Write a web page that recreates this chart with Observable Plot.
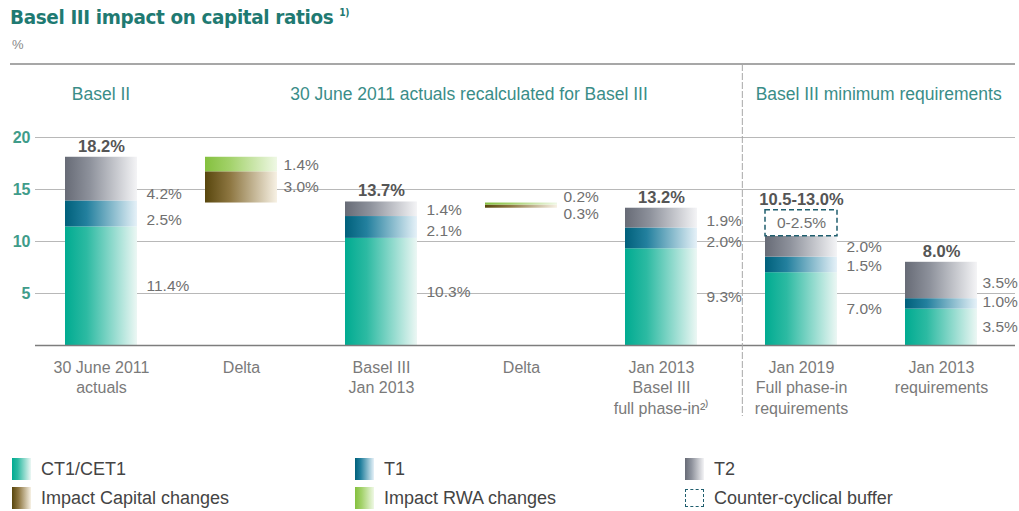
<!DOCTYPE html>
<html><head><meta charset="utf-8">
<script src="https://cdn.jsdelivr.net/npm/d3@7"></script>
<script src="https://cdn.jsdelivr.net/npm/@observablehq/plot@0.6"></script>
<style>
body{margin:0;background:#fff;width:1019px;height:511px;overflow:hidden;font-family:"Liberation Sans",Arial,sans-serif;}
#head{height:56px;position:relative;}
#title{position:absolute;left:10px;top:5px;font-family:"DejaVu Sans",sans-serif;font-size:20px;font-weight:bold;color:#1f7a72;white-space:nowrap;letter-spacing:-0.4px;transform:scaleX(0.92);transform-origin:left center}
#title sup{font-size:10px;vertical-align:8px}
#unit{position:absolute;left:12px;top:37px;font-size:13px;color:#888}
#chart svg{display:block}
#legend{position:relative;height:66px;font-family:"Liberation Sans",Arial,sans-serif;font-size:18px;color:#444}
.item{position:absolute;display:flex;align-items:center;height:22px;white-space:nowrap}
.sw{width:19px;height:22px;margin-right:10px;box-sizing:border-box}
</style></head>
<body>
<div id="head"><div id="title">Basel III impact on capital ratios <sup>1)</sup></div><div id="unit">%</div></div>
<div id="chart"></div>
<div id="legend"></div>
<script>
// ---- data ----
const categories = ["c1","c2","c3","c4","c5","c6","c7"];
const tickLabels = ["30 June 2011\nactuals","Delta","Basel III\nJan 2013","Delta","Jan 2013\nBasel III\nfull phase-in²⁾","Jan 2019\nFull phase-in\nrequirements","Jan 2013\nrequirements"];
const cet1 = [11.4, 0, 10.3, 0, 9.3, 7.0, 3.5];
const t1 = [2.5, 0, 2.1, 0, 2.0, 1.5, 1.0];
const t2 = [4.2, 0, 1.4, 0, 1.9, 2.0, 3.5];
const buffer = [0, 0, 0, 0, 0, 2.5, 0];
const deltaBase = [0, 13.7, 0, 13.2, 0, 0, 0];
const capitalImpact = [0, 3.0, 0, 0.3, 0, 0, 0];
const rwaImpact = [0, 1.4, 0, 0.2, 0, 0, 0];
const totalLabels = ["18.2%", "", "13.7%", "", "13.2%", "10.5-13.0%", "8.0%"];
const bufferLabels = ["", "", "", "", "", "0-2.5%", ""];
const yTicks = [5, 10, 15, 20];
const groupHeadings = ["Basel II", "30 June 2011 actuals recalculated for Basel III", "Basel III minimum requirements"];
const legendItems = [
  {label: "CT1/CET1", key: "cet1"}, {label: "T1", key: "t1"}, {label: "T2", key: "t2"},
  {label: "Impact Capital changes", key: "capital"}, {label: "Impact RWA changes", key: "rwa"}, {label: "Counter-cyclical buffer", key: "buffer"}
];

// ---- styles ----
const gradients = {
  cet1: [[0, "#00ab91"], [0.3, "#2cbaa2"], [1, "#ecf7f4"]],
  t1: [[0, "#00607b"], [0.3, "#23809e"], [1, "#e6f1f8"]],
  t2: [[0, "#676b76"], [0.35, "#8e929c"], [1, "#f4f4f6"]],
  capital: [[0, "#58460d"], [0.35, "#8e7742"], [1, "#f7f1e4"]],
  rwa: [[0, "#84c03e"], [0.35, "#a3d26b"], [1, "#eff8e5"]]
};
const font = '"Liberation Sans",Arial,sans-serif';

const W = 1019, H = 389, mL = 35, mR = 4, mT = 81, mB = 100;
const pxPerUnit = (H - mT - mB) / 20;

// ---- derived rows ----
const segs = [];
const barLabels = [];
const totals = [];
categories.forEach((c, i) => {
  let base = 0;
  const bl = [];
  [["cet1", cet1], ["t1", t1], ["t2", t2], ["buffer", buffer]].forEach(([k, arr]) => {
    const v = arr[i];
    if (v > 0) {
      segs.push({cat: c, key: k, y1: base, y2: base + v, v});
      if (k === "cet1") bl.push({cat: c, y: base + v / 2, text: v.toFixed(1) + "%"});
      else if (k !== "buffer") bl.push({cat: c, y: base + 7 / pxPerUnit, text: v.toFixed(1) + "%"});
      base += v;
    }
  });
  // keep labels of one bar at least 19px apart, pushing upper ones up
  const sep = 19 / pxPerUnit;
  for (let j = 1; j < bl.length; j++) if (bl[j].y - bl[j - 1].y < sep) bl[j].y = bl[j - 1].y + sep;
  barLabels.push(...bl);
  if (totalLabels[i]) totals.push({cat: c, y: base, text: totalLabels[i]});
  let db = deltaBase[i];
  const dl = [];
  [["capital", capitalImpact], ["rwa", rwaImpact]].forEach(([k, arr]) => {
    const v = arr[i];
    if (v > 0) { segs.push({cat: c, key: k, y1: db, y2: db + v, v}); dl.push({cat: c, y: db + v / 2, text: v.toFixed(1) + "%", delta: true}); db += v; }
  });
  if (dl.length === 2) {
    const minSep = 17 / pxPerUnit, mid = (dl[0].y + dl[1].y) / 2;
    if (dl[1].y - dl[0].y < minSep) { dl[0].y = mid - minSep / 2; dl[1].y = mid + minSep / 2; }
  }
  barLabels.push(...dl);
});
const bufferRows = categories.map((c, i) => ({cat: c, i})).filter(d => buffer[d.i] > 0)
  .map(d => ({cat: d.cat, y: cet1[d.i] + t1[d.i] + t2[d.i] + buffer[d.i] / 2, text: bufferLabels[d.i]}));

const pi = 0.486, po = 0.214;
const rangeX = [35, 1007];
const step = (rangeX[1] - rangeX[0]) / (categories.length - pi + 2 * po);
const bw = step * (1 - pi);

const barMarks = ["cet1", "t1", "t2", "capital", "rwa"].map(k =>
  Plot.barY(segs.filter(d => d.key === k), {x: "cat", y1: "y1", y2: "y2", fill: `url(#g_${k})`})
);
const labelStyle = {x: "cat", y: "y", text: "text", textAnchor: "start", fontSize: 15.5, fill: "#707070"};

const plot = Plot.plot({
  width: W, height: H, marginLeft: mL, marginRight: mR, marginTop: mT, marginBottom: mB,
  x: {domain: categories, range: rangeX, paddingInner: pi, paddingOuter: po, align: 0.5, label: null},
  y: {domain: [0, 20], label: null},
  style: {fontFamily: font, background: "white", overflow: "visible"},
  marks: [
    Plot.ruleY(yTicks, {stroke: "#b8b8b8", strokeWidth: 1.2}),
    Plot.axisY(yTicks, {tickSize: 0, tickPadding: 5, fontSize: 16, fontWeight: "bold", color: "#3f9c8a", label: null}),
    Plot.axisX({tickSize: 0, tickPadding: 13, fontSize: 16, color: "#7a7a7a", lineHeight: 1.27, label: null, tickFormat: c => tickLabels[categories.indexOf(c)]}),
    ...barMarks,
    Plot.barY(segs.filter(d => d.key === "buffer"), {x: "cat", y1: "y1", y2: "y2", fill: "white", stroke: "#1f5e6e", strokeWidth: 1.5, strokeDasharray: "5,3"}),
    Plot.ruleY([0], {stroke: "#7d7d7d", strokeWidth: 1.6}),
    Plot.text(barLabels.filter(d => !d.delta && d.cat !== "c7"), {...labelStyle, dx: bw / 2 + 9}),
    Plot.text(barLabels.filter(d => !d.delta && d.cat === "c7"), {...labelStyle, dx: bw / 2 + 5}),
    Plot.text(barLabels.filter(d => d.delta), {...labelStyle, dx: bw / 2 + 6}),
    Plot.text(totals, {x: "cat", y: "y", text: "text", dy: -11, fontSize: 16.5, fontWeight: "bold", fill: "#555"}),
    Plot.text(bufferRows, {x: "cat", y: "y", text: "text", fontSize: 15.5, fill: "#707070"})
  ]
});

const svg = d3.select(plot);
const defs = svg.insert("defs", ":first-child");
Object.entries(gradients).forEach(([k, stops]) => {
  const g = defs.append("linearGradient").attr("id", "g_" + k).attr("x1", 0).attr("x2", 1).attr("y1", 0).attr("y2", 0);
  stops.forEach(([o, c]) => g.append("stop").attr("offset", o).attr("stop-color", c));
});

const xs = plot.scale("x");
const left = c => xs.apply(c);
const center = c => xs.apply(c) + xs.bandwidth / 2;
const dividerX = left("c6") - (left("c6") - (left("c5") + xs.bandwidth)) / 3;
const deco = svg.append("g");
deco.append("line").attr("x1", 10).attr("x2", 1015).attr("y1", 8).attr("y2", 8).attr("stroke", "#8a8a8a").attr("stroke-width", 1.6);
deco.append("line").attr("x1", dividerX).attr("x2", dividerX).attr("y1", 8).attr("y2", 360).attr("stroke", "#a8a8a8").attr("stroke-width", 1).attr("stroke-dasharray", "7,2");
const headX = [center("c1"), (center("c2") + left("c5") + xs.bandwidth) / 2, (dividerX + 1015) / 2];
groupHeadings.forEach((t, i) => {
  deco.append("text").attr("x", headX[i]).attr("y", 38).attr("dy", "0.35em").attr("text-anchor", "middle")
    .attr("font-size", 17.5).attr("fill", "#3a8d88").attr("font-family", font).text(t);
});
document.getElementById("chart").appendChild(plot);

// legend
const lg = document.getElementById("legend");
const cols = [12, 355, 685], rows = [13, 42];
legendItems.forEach((d, i) => {
  const it = document.createElement("div");
  it.className = "item";
  it.style.left = cols[i % 3] + "px";
  it.style.top = rows[Math.floor(i / 3)] + "px";
  const sw = document.createElement("div");
  sw.className = "sw";
  if (d.key === "buffer") { sw.style.border = "1.5px dashed #1f5e6e"; sw.style.height = "18px"; }
  else sw.style.background = `linear-gradient(to right, ${gradients[d.key].map(([o, c]) => c + " " + (o * 100) + "%").join(",")})`;
  it.appendChild(sw);
  const tx = document.createElement("span");
  tx.textContent = d.label;
  it.appendChild(tx);
  lg.appendChild(it);
});
</script>
</body></html>
